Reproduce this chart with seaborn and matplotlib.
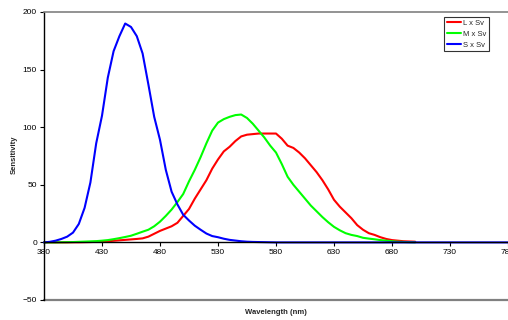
import numpy as np
import pandas as pd
import seaborn as sns
from matplotlib import pyplot as plt

# wavelengths (nm)
wl_lm = list(range(380, 705, 5))
wl_s = list(range(380, 785, 5))

# L x Sv (red)
l_sv = [0, 0, 0, 0, 0, 0.1, 0.1, 0.2, 0.3, 0.5,
        0.7, 1, 1.4, 1.8, 2.2, 2.6, 3, 3.5, 5, 7.5,
        10, 12, 14, 17, 23, 29, 38, 46, 54, 64,
        72, 79, 83, 88, 92, 93.5, 94, 94.5, 94.5, 94.5,
        94.5, 90, 84, 82, 78, 73, 67, 61, 54, 46,
        37, 31, 26, 21, 15, 11, 8, 6.5, 4.5, 3,
        2, 1.5, 1, 0.8, 0.6]

# M x Sv (green)
m_sv = [0, 0, 0, 0.1, 0.2, 0.3, 0.5, 0.7, 0.9, 1.1,
        1.5, 2, 2.8, 3.7, 4.7, 5.8, 7.5, 9.3, 11, 14,
        18, 23, 28.5, 35, 42, 53, 63, 74, 86, 97,
        104, 107, 109, 110.5, 111, 108, 103, 97, 91, 84,
        78, 68, 57, 50, 44, 38, 32, 27, 22, 17.5,
        13.5, 10.5, 8, 6.5, 5.5, 4, 3.3, 2.7, 2, 1.5,
        1, 0.6, 0.4, 0.2, 0.1]

# S x Sv (blue)
s_sv = [0, 0.5, 1.5, 3, 5, 8.5, 16, 30, 52, 86,
        110, 143, 166, 179, 190, 187, 179, 164, 137, 109,
        89, 63, 44, 33, 24, 19, 14.5, 11, 7.7, 5.5,
        4.5, 3.2, 2.2, 1.6, 1, 0.6, 0.4, 0.3, 0.2, 0.1,
        0, 0, 0, 0, 0, 0, 0, 0, 0, 0,
        0, 0, 0, 0, 0, 0, 0, 0, 0, 0,
        0, 0, 0, 0, 0, 0, 0, 0, 0, 0,
        0, 0, 0, 0, 0, 0, 0, 0, 0, 0, 0]

df = pd.concat([
    pd.DataFrame({"wl": wl_lm, "val": l_sv, "series": "L x Sv"}),
    pd.DataFrame({"wl": wl_lm, "val": m_sv, "series": "M x Sv"}),
    pd.DataFrame({"wl": wl_s, "val": s_sv, "series": "S x Sv"}),
])

sns.set_style("white")
plt.rcParams['font.family'] = ['Liberation Sans', 'DejaVu Sans']

fig = plt.figure(figsize=(5.08, 3.2), dpi=100)
ax = fig.add_axes([44 / 508, 20 / 320, 464 / 508, 288 / 320])

palette = {"L x Sv": "#ff0000", "M x Sv": "#00ff00", "S x Sv": "#0000ff"}
sns.lineplot(data=df, x="wl", y="val", hue="series", palette=palette,
             linewidth=1.5, ax=ax, clip_on=False)

ax.set_xlim(380, 780)
ax.set_ylim(-50, 200)
ax.set_xticks(np.arange(380, 781, 50))
ax.set_yticks(np.arange(-50, 201, 50))
ax.tick_params(axis="both", labelsize=6, length=3, width=0.8, direction="out",
               colors="black", pad=2, bottom=True, left=True)

ax.spines["bottom"].set_position(("data", 0))
ax.spines["bottom"].set_color("black")
ax.spines["bottom"].set_linewidth(1)
ax.spines["left"].set_color("black")
ax.spines["left"].set_linewidth(1)
ax.spines["top"].set_color("#808080")
ax.spines["top"].set_linewidth(1.2)
ax.spines["right"].set_visible(False)
ax.axhline(-50, color="#808080", lw=1.6, clip_on=False, zorder=0)

ax.set_xlabel("")
ax.set_ylabel("")
fig.text(276 / 508, 1 - 313 / 320, "Wavelength (nm)", ha="center", va="center",
         fontsize=5.5, fontweight="bold")
fig.text(14 / 508, 1 - 155 / 320, "Sensitivity", ha="center", va="center",
         rotation=90, fontsize=5.5, fontweight="bold")

leg = ax.legend(loc="upper right", bbox_to_anchor=(489 / 508, 1 - 17 / 320),
                bbox_transform=fig.transFigure, fontsize=5.5, frameon=True,
                fancybox=False, edgecolor="black", handlelength=1.9,
                handletextpad=0.2, borderpad=0.35, labelspacing=0.45,
                borderaxespad=0)
leg.get_frame().set_linewidth(0.8)
for line in leg.get_lines():
    line.set_linewidth(1.5)

fig.savefig("out.png", dpi=100)
